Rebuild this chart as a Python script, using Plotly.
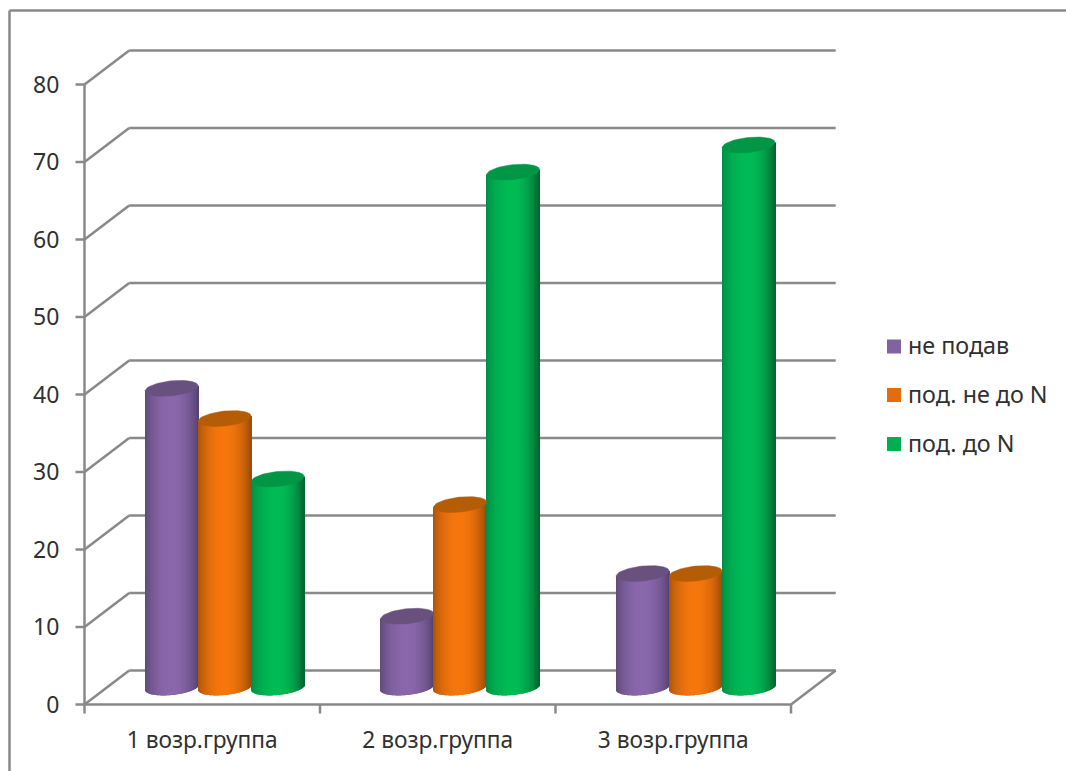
import numpy as np
import plotly.graph_objects as go

# Chart data
categories = ["1 возр.группа", "2 возр.группа", "3 возр.группа"]
series_names = ["не подав", "под. не до N", "под. до N"]
ne_podav = [38.6, 9.2, 14.7]
pod_ne_do_n = [34.7, 23.6, 14.7]
pod_do_n = [26.9, 66.5, 70]
y_ticks = [0, 10, 20, 30, 40, 50, 60, 70, 80]

series_values = [ne_podav, pod_ne_do_n, pod_do_n]
# left edge, centre, right edge of each cylinder's shading, and its top cap
body_shades = [
    ("#5d4978", "#8a67ab", "#54416e"),
    ("#a85408", "#f6760c", "#984a08"),
    ("#008c45", "#00bb55", "#005f2c"),
]
cap_shades = ["#68507f", "#b55c06", "#009646"]
legend_swatches = ["#8064a2", "#e46c0a", "#00b050"]

# Layout geometry, in pixels
W, H = 1066, 771
PLOT_L, PLOT_R, PLOT_T, PLOT_B = 70, 850, 40, 716
AXIS_X0, AXIS_Y0 = 84.5, 704.5      # front-left corner of the floor
PX_PER_CAT = 235.5
PX_PER_UNIT = 7.75
DEPTH_PX_X, DEPTH_PX_Y = 44.7, 34.0
CYL_WIDTH_PX = 53.0
CAP_HALF_H_PX = 7.5
CAP_TILT_PX = 2.6
LINE = "#898989"
TEXT = "#303030"
FONT = "Noto Sans"

x_range = [-0.5 + (PLOT_L - AXIS_X0) / PX_PER_CAT, -0.5 + (PLOT_R - AXIS_X0) / PX_PER_CAT]
y_range = [(AXIS_Y0 - PLOT_B) / PX_PER_UNIT, (AXIS_Y0 - PLOT_T) / PX_PER_UNIT]

dx = DEPTH_PX_X / PX_PER_CAT
dy = DEPTH_PX_Y / PX_PER_UNIT
cyl_w = CYL_WIDTH_PX / PX_PER_CAT
half_h = CAP_HALF_H_PX / PX_PER_UNIT
tilt = CAP_TILT_PX / PX_PER_UNIT
n_cat = len(categories)


def hex_rgb(c):
    return np.array([int(c[i:i + 2], 16) for i in (1, 3, 5)], dtype=float)


def shade(shades, t):
    """Cylindrical shading across t in [-1, 1]."""
    left, mid, right = (hex_rgb(c) for c in shades)
    k = np.clip(1 - t * t, 0, 1) ** 0.85
    rgb = (left if t < 0 else right) * (1 - k) + mid * k
    return "rgb({:.0f},{:.0f},{:.0f})".format(*rgb)


fig = go.Figure()

# Each cylinder body is a run of one-pixel bars with shaded colours
n_strips = int(CYL_WIDTH_PX)
strip_t = (np.arange(n_strips) + 0.5) / n_strips * 2 - 1
for s, (name, values) in enumerate(zip(series_names, series_values)):
    xs, tops, bases, colors = [], [], [], []
    for c, v in enumerate(values):
        cx = c + dx / 2 + (s - 1) * cyl_w
        for t in strip_t:
            bottom = dy / 2 + tilt * t - half_h * np.sqrt(1 - t * t)
            top = v + dy / 2 + tilt * t
            xs.append(cx + t * cyl_w / 2)
            bases.append(bottom)
            tops.append(top - bottom)
            colors.append(shade(body_shades[s], t))
    fig.add_trace(go.Bar(
        x=xs, y=tops, base=bases, width=cyl_w / n_strips * 1.2,
        marker=dict(color=colors, line=dict(width=0)),
        name=name, showlegend=False, hoverinfo="skip",
    ))

# Top caps of the cylinders
theta = np.linspace(0, 2 * np.pi, 73)
for s, values in enumerate(series_values):
    for c, v in enumerate(values):
        cx = c + dx / 2 + (s - 1) * cyl_w
        fig.add_trace(go.Scatter(
            x=cx + np.cos(theta) * cyl_w / 2,
            y=v + dy / 2 + tilt * np.cos(theta) + half_h * np.sin(theta),
            mode="lines", fill="toself", fillcolor=cap_shades[s],
            line=dict(width=0.5, color=cap_shades[s]),
            showlegend=False, hoverinfo="skip",
        ))


def seg(x0, y0, x1, y1, width=2.5, color=LINE):
    return dict(type="line", xref="x", yref="y", x0=x0, y0=y0, x1=x1, y1=y1,
                layer="below", line=dict(color=color, width=width))


def paper_x(px):
    return (px - PLOT_L) / (PLOT_R - PLOT_L)


def paper_y(py):
    return (PLOT_B - py) / (PLOT_B - PLOT_T)


shapes = []
x_left, x_right = -0.5, n_cat - 0.5
tick_x = 9.0 / PX_PER_CAT
tick_y = 9.0 / PX_PER_UNIT
# Back-wall gridlines with their diagonals on the side wall
for v in y_ticks:
    shapes.append(seg(x_left, v, x_left + dx, v + dy))
    shapes.append(seg(x_left + dx, v + dy, x_right + dx, v + dy))
    shapes.append(seg(x_left - tick_x, v, x_left, v))
# Floor edges and axes
shapes.append(seg(x_right, 0, x_right + dx, dy))
shapes.append(seg(x_left, 0, x_right, 0))
shapes.append(seg(x_left, 0, x_left, y_ticks[-1]))
for c in range(n_cat + 1):
    shapes.append(seg(x_left + c, 0, x_left + c, -tick_y))

# Outer chart frame, open at the right and bottom of the page
frame_x, frame_y = paper_x(9.5), paper_y(10.5)
for x0, y0, x1, y1 in [(frame_x, frame_y, paper_x(W), frame_y),
                       (frame_x, frame_y, frame_x, paper_y(H))]:
    shapes.append(dict(type="line", xref="paper", yref="paper",
                       x0=x0, y0=y0, x1=x1, y1=y1, layer="below",
                       line=dict(color="#898989", width=2.5)))

# Legend drawn beside the plot
annotations = []
legend_rows_y = [346.5, 395, 444]
for name, color, py in zip(series_names, legend_swatches, legend_rows_y):
    shapes.append(dict(type="rect", xref="paper", yref="paper",
                       x0=paper_x(887), x1=paper_x(901),
                       y0=paper_y(py + 7), y1=paper_y(py - 7),
                       fillcolor=color, line=dict(width=0)))
    annotations.append(dict(xref="paper", yref="paper", x=paper_x(906), y=paper_y(py - 1.5),
                            text=name, showarrow=False, xanchor="left", yanchor="middle",
                            font=dict(family=FONT, size=23.3, color=TEXT)))

fig.update_layout(
    width=W, height=H, autosize=False,
    margin=dict(l=PLOT_L, r=W - PLOT_R, t=PLOT_T, b=H - PLOT_B, pad=0),
    paper_bgcolor="white", plot_bgcolor="white",
    barmode="overlay", showlegend=False,
    shapes=shapes, annotations=annotations,
    xaxis=dict(
        range=x_range, tickmode="array", tickvals=list(range(n_cat)), ticktext=categories,
        showgrid=False, zeroline=False, showline=False,
        ticks="outside", ticklen=4, tickcolor="rgba(0,0,0,0)",
        tickfont=dict(family=FONT, size=22.7, color=TEXT),
    ),
    yaxis=dict(
        range=y_range, tickmode="array", tickvals=y_ticks,
        showgrid=False, zeroline=False, showline=False,
        ticks="outside", ticklen=5, tickcolor="rgba(0,0,0,0)",
        tickfont=dict(family=FONT, size=23, color=TEXT),
    ),
)

fig.write_html("out.html", config=dict(displayModeBar=False))
